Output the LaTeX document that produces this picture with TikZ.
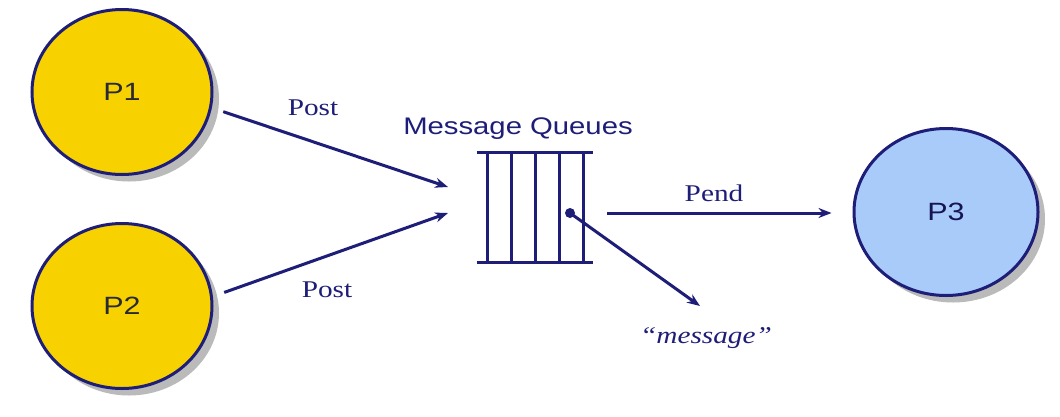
\documentclass[tikz,border=0pt]{standalone}
\usepackage{fontspec}
\setmainfont{Liberation Serif}[FakeStretch=1.22]
\setsansfont{Liberation Sans}[FakeStretch=1.22]
\usetikzlibrary{shapes.geometric,shadows,arrows.meta}
\definecolor{navy}{HTML}{1E1E78}
\definecolor{pyellow}{HTML}{F7D200}
\definecolor{pblue}{HTML}{A8CBFA}
\definecolor{ptext}{HTML}{2A2A36}
\tikzset{
  proc/.style={ellipse, draw=navy, line width=3pt, minimum width=180pt, minimum height=165pt, inner sep=0pt,
    font=\sffamily\fontsize{25}{28}\selectfont, text=ptext,
    drop shadow={shadow xshift=7pt, shadow yshift=-7pt, fill=black!45, opacity=0.6}},
  conn/.style={draw=navy, line width=3pt, -{Stealth[length=13pt,width=10pt]}},
  lbl/.style={font=\rmfamily\fontsize{24}{28}\selectfont, text=navy, inner sep=0pt},
  qline/.style={draw=navy, line width=3pt}
}
\begin{document}
\begin{tikzpicture}[x=1pt,y=-1pt]
\useasboundingbox[fill=white] (0,0) rectangle (1060,416);
% processes
\node[proc, fill=pyellow] (P1) at (122,92) {P1};
\node[proc, fill=pyellow] (P2) at (122,306) {P2};
\node[proc, fill=pblue, minimum width=184pt, minimum height=167pt, text=navy!70!black] (P3) at (946,212) {P3};
% queue
\node[minimum width=116pt, minimum height=109pt, inner sep=0pt] (Q) at (535,207.5) {};
\draw[qline] (Q.north west) -- (Q.north east);
\draw[qline] (Q.south west) -- (Q.south east);
\foreach \xx in {487,511,535,559,583} \draw[qline] (\xx,153) -- (\xx,262);
\node[font=\sffamily\fontsize{24}{28}\selectfont, text=navy, inner sep=0pt] (QT) at (518,129) {Message Queues};
% arrow ends
\coordinate (in1) at (448,187);
\coordinate (in2) at (448,213);
\coordinate (dot) at (570,213);
\coordinate (mtip) at (700,306);
% post arrows
\draw[conn, shorten <=12pt] (P1.-10) -- (in1);
\draw[conn, shorten <=12pt] (P2.6) -- (in2);
\node[lbl] (post1) at (313,108) {Post};
\node[lbl] (post2) at (327,290) {Post};
% pend
\draw[conn, shorten <=14pt, shorten >=21pt] (Q.east |- dot) -- (dot -| P3.west);
\node[lbl] (pend) at (714,193) {Pend};
% message
\fill[navy] (dot) circle (5pt);
\draw[conn] (dot) -- (mtip);
\node[lbl, font=\rmfamily\itshape\fontsize{24}{28}\selectfont] (msg) at (706,338) {“message”};
\end{tikzpicture}
\end{document}
